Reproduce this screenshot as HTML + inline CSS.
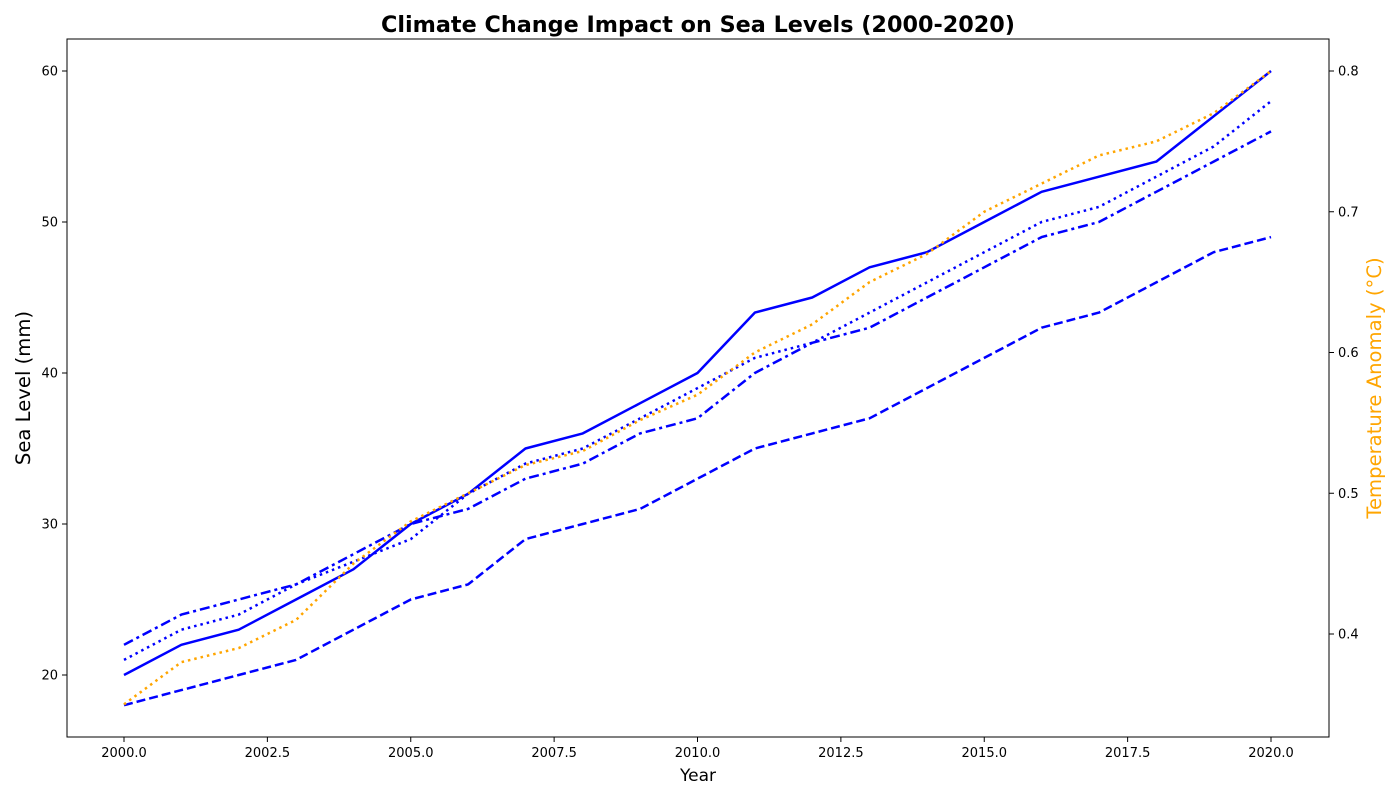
<!DOCTYPE html>
<html><head><meta charset="utf-8"><style>
body{margin:0;background:#fff;font-family:"DejaVu Sans",sans-serif}
</style></head><body>
<svg id="chart" width="1400" height="800" xmlns="http://www.w3.org/2000/svg" font-family="DejaVu Sans, sans-serif"></svg>
<script>
const years=[2000,2001,2002,2003,2004,2005,2006,2007,2008,2009,2010,2011,2012,2013,2014,2015,2016,2017,2018,2019,2020];
const seaSolid=[20,22,23,25,27,30,32,35,36,38,40,44,45,47,48,50,52,53,54,57,60];
const seaDashDot=[22,24,25,26,28,30,31,33,34,36,37,40,42,43,45,47,49,50,52,54,56];
const seaDotted=[21,23,24,26,27.5,29,32,34,35,37,39,41,42,44,46,48,50,51,53,55,58];
const seaDashed=[18,19,20,21,23,25,26,29,30,31,33,35,36,37,39,41,43,44,46,48,49];
const tempAnomaly=[0.35,0.38,0.39,0.41,0.45,0.48,0.50,0.52,0.53,0.552,0.57,0.60,0.62,0.65,0.67,0.70,0.72,0.74,0.75,0.77,0.80];
const xTicks=[2000,2002.5,2005,2007.5,2010,2012.5,2015,2017.5,2020];
const yTicks=[20,30,40,50,60];
const y2Ticks=[0.4,0.5,0.6,0.7,0.8];

const L=67,R=1329,T=39,B=737;
const xs=v=>124+(v-2000)*(1271-124)/20;
const ys=v=>675-(v-20)*(675-71)/40;
const y2s=v=>634-(v-0.4)*(634-71)/0.4;
const svg=document.getElementById('chart');
const NS='http://www.w3.org/2000/svg';
function mk(tag,attrs,parent){const e=document.createElementNS(NS,tag);for(const k in attrs)e.setAttribute(k,attrs[k]);(parent||svg).appendChild(e);return e;}
function txt(s,attrs){const e=mk('text',attrs);e.textContent=s;return e;}

function line(vals,sc,color,dash,name){
  const p=mk('polyline',{points:vals.map((v,i)=>xs(years[i])+','+sc(v)).join(' '),fill:'none',stroke:color,'stroke-width':2.5,'stroke-dasharray':dash,'stroke-linejoin':'round'});
  
  
}
line(seaDashed,ys,'#0000ff','9,4','sea-level-dashed');
line(seaDashDot,ys,'#0000ff','10,4,3,4','sea-level-dashdot');
line(seaDotted,ys,'#0000ff','2.5,4','sea-level-dotted');
line(seaSolid,ys,'#0000ff','','sea-level-solid');
line(tempAnomaly,y2s,'#ffa500','2.5,4','temperature-anomaly-line');

const frame=mk('rect',{x:L,y:T,width:R-L,height:B-T,fill:'none',stroke:'#000','stroke-width':1});



xTicks.forEach(t=>{const x=xs(t);mk('line',{x1:x,x2:x,y1:B,y2:B+5,stroke:'#000'});
  const e=txt(t.toFixed(1),{x:x,y:B+20,'font-size':13,'text-anchor':'middle'});
  
  });
yTicks.forEach(t=>{const y=ys(t);mk('line',{x1:L-5,x2:L,y1:y,y2:y,stroke:'#000'});
  const e=txt(String(t),{x:L-9,y:y+4.5,'font-size':13,'text-anchor':'end'});
  
  });
y2Ticks.forEach(t=>{const y=y2s(t);mk('line',{x1:R,x2:R+5,y1:y,y2:y,stroke:'#000'});
  const e=txt(t.toFixed(1),{x:R+9,y:y+4.5,'font-size':13});
  
  });

let e=txt('Climate Change Impact on Sea Levels (2000-2020)',{x:698,y:32,'font-size':22.3,'font-weight':'bold','text-anchor':'middle'});

e=txt('Year',{x:698,y:781,'font-size':17,'text-anchor':'middle'});

e=txt('Sea Level (mm)',{x:0,y:0,'font-size':19.6,'text-anchor':'middle',transform:'translate(30,388) rotate(-90)'});

e=txt('Temperature Anomaly (°C)',{x:0,y:0,'font-size':19.6,'text-anchor':'middle',fill:'#ffa500',transform:'translate(1381,388) rotate(-90)'});

</script>
</body></html>
